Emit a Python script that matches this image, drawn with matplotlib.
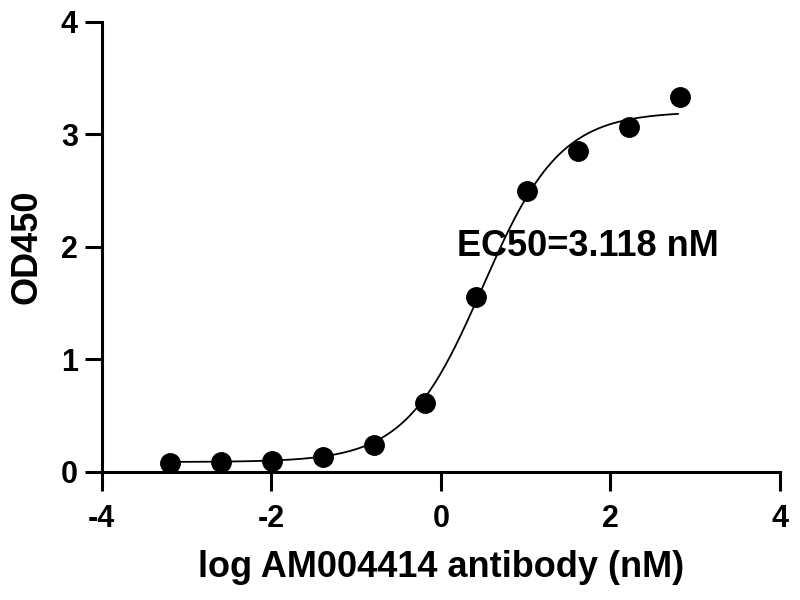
import numpy as np
import matplotlib
matplotlib.use("Agg")
import matplotlib.pyplot as plt

# Data
log_conc = [-3.194, -2.592, -1.990, -1.388, -0.786, -0.184, 0.418, 1.020, 1.622, 2.224, 2.826]
od450 = [0.080, 0.084, 0.098, 0.128, 0.237, 0.608, 1.556, 2.495, 2.850, 3.067, 3.333]

# 4PL fit parameters
fit_bottom = 0.085
fit_top = 3.20
fit_log_ec50 = 0.494
fit_hill = 0.95
ec50_label = "EC50=3.118 nM"

x_ticks = [-4, -2, 0, 2, 4]
x_tick_labels = ['-4', '-2', '0', '2', '4']
y_ticks = [0, 1, 2, 3, 4]
y_tick_labels = ['0', '1', '2', '3', '4']

plt.rcParams['font.family'] = ['Liberation Sans', 'DejaVu Sans']
plt.rcParams['font.weight'] = 'bold'

fig = plt.figure(figsize=(8, 6), dpi=100)
ax = fig.add_axes([0.127, 0.214, 0.848, 0.75])

xs = np.linspace(min(log_conc), max(log_conc) - 0.03, 300)
ys = fit_bottom + (fit_top - fit_bottom) / (1 + 10 ** ((fit_log_ec50 - xs) * fit_hill))
ax.plot(xs, ys, color='black', lw=1.3, zorder=2)
ax.plot(log_conc, od450, 'o', color='black', markersize=14, zorder=3, clip_on=False)

ax.set_xlim(-4, 4)
ax.set_ylim(0, 4)
ax.set_xticks(x_ticks)
ax.set_xticklabels(x_tick_labels)
ax.set_yticks(y_ticks)
ax.set_yticklabels(y_tick_labels)
ax.spines['top'].set_visible(False)
ax.spines['right'].set_visible(False)
for s in ['left', 'bottom']:
    ax.spines[s].set_linewidth(2.2)
ax.tick_params(axis='y', length=12, width=2.2, labelsize=22, pad=5)
ax.tick_params(axis='x', length=14, width=2.2, labelsize=22, pad=9)
for lab in ax.get_xticklabels() + ax.get_yticklabels():
    lab.set_fontweight('bold')

ax.set_xlabel('log AM004414 antibody (nM)', fontsize=26, fontweight='bold', labelpad=12)
ax.set_ylabel('OD450', fontsize=26, fontweight='bold', labelpad=12)

ax.text(1.73, 2.0, ec50_label, fontsize=26, fontweight='bold', ha='center', va='center')

fig.savefig('out.png', dpi=100)
